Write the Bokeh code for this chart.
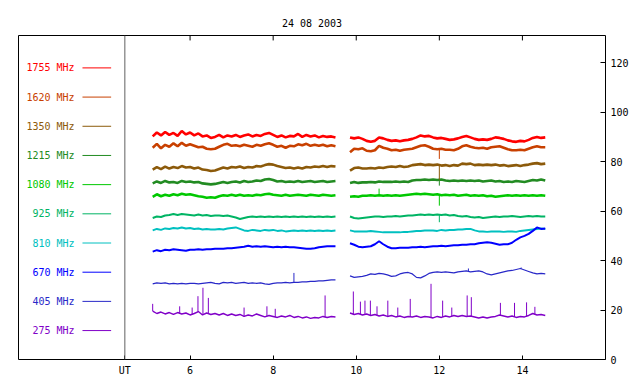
import numpy as np
from bokeh.plotting import figure
from bokeh.models import LinearAxis, FixedTicker, Span, Range1d
from bokeh.core.properties import value
from bokeh.embed import file_html
from bokeh.resources import INLINE

# ---------------- data ----------------
title_text = "24 08 2003"
freq_labels = ["1755 MHz", "1620 MHz", "1350 MHz", "1215 MHz", "1080 MHz",
               "925 MHz", "810 MHz", "670 MHz", "405 MHz", "275 MHz"]
colors = ["#ff0000", "#c84000", "#8c5a0a", "#228b22", "#00c800",
          "#00b464", "#00c0c0", "#0000ff", "#2828c8", "#8000c8"]

x_ticks = [6, 8, 10, 12, 14]
y_ticks = [0, 20, 40, 60, 80, 100, 120]

hours_seg1 = np.round(np.arange(5.1, 9.5001, 0.1), 2)    # 45 samples
hours_seg2 = np.round(np.arange(9.85, 14.5501, 0.1), 2)  # 48 samples

s1755_a = [90.2, 91.8, 90.6, 92.0, 90.8, 91.6, 90.4, 92.4, 91.0, 91.8,
           90.6, 91.4, 90.2, 90.6, 89.6, 90.0,
           90.8, 89.8, 90.6, 90.2,
           90.8, 90.0, 90.6, 91.0, 90.2, 90.8, 90.4, 91.2, 91.6, 90.8,
           90.0, 90.6, 89.8, 90.4, 90.2,
           91.2, 90.0, 90.8, 90.2, 90.6,
           89.8, 90.4, 90.0, 90.2, 89.8]
s1755_b = [89.8, 89.4, 89.8, 89.2,
           88.4, 88.0, 88.4,
           89.8, 89.4, 88.8,
           88.4, 88.6, 88.2, 88.6, 88.8,
           89.2, 89.8,
           90.6, 90.2, 90.4,
           89.8, 89.4, 89.6, 89.2,
           88.8, 89.0, 89.4,
           90.0, 90.4, 89.8,
           89.2, 88.8, 89.0, 88.8, 89.2,
           89.8, 89.6, 89.2,
           88.6, 88.2, 88.0, 88.4, 88.2, 88.8,
           89.6, 90.0, 89.6, 89.8]

s1620_a = [85.6, 87.2, 85.4, 86.8, 86.0, 87.4, 86.2, 87.6, 86.4, 87.0,
           86.4, 85.8, 86.0, 85.2, 85.0, 85.2,
           86.0, 86.8, 87.2, 86.4,
           86.6, 86.2, 86.8, 86.4, 86.0, 86.8, 86.4, 87.0, 87.4, 86.8,
           86.0, 86.4, 85.6, 86.4, 86.2,
           87.0, 86.6, 87.2, 86.4, 86.8,
           86.4, 86.8, 86.2, 86.6, 86.2]
s1620_b = [83.8, 85.2, 85.0, 85.4,
           84.4, 84.2, 84.6,
           86.4, 85.6, 85.2,
           84.6, 84.8, 84.4, 84.8, 85.0,
           85.2, 85.8,
           86.4, 86.6, 86.0,
           85.2, 85.0, 85.2, 84.8,
           84.8, 84.6, 85.2,
           86.2, 86.6, 86.0,
           85.6, 85.4, 85.6, 85.2, 85.8,
           86.0, 86.2, 85.6,
           85.0, 84.6, 84.6, 84.8, 84.6, 85.2,
           85.8, 86.2, 85.8, 85.8]

s1350_a = [76.8, 77.8, 77.0, 78.0, 77.2, 77.8, 77.4, 78.2, 77.6, 77.8,
           77.2, 77.6, 76.8, 76.6, 76.2, 76.4,
           77.0, 77.6, 77.2, 77.8,
           77.6, 78.0, 77.4, 77.8, 77.6, 78.2, 78.0, 78.6, 79.0, 78.8,
           78.2, 77.8, 77.4, 77.6, 77.2,
           77.6, 77.2, 77.8, 77.6, 78.0,
           77.8, 78.2, 77.8, 78.2, 78.0]
s1350_b = [76.4, 77.4, 77.6, 77.2,
           77.2, 77.4, 77.2,
           77.6, 77.4, 77.8,
           78.0, 77.8, 78.2, 77.8, 78.0,
           78.6, 78.8,
           79.0, 78.6, 78.8,
           78.6, 78.8, 78.4, 78.6,
           78.2, 78.6, 78.4,
           79.2, 79.0, 79.2,
           78.6, 78.8, 78.6, 78.8, 78.6,
           78.8, 78.4, 78.6,
           78.2, 78.4, 78.6, 78.2, 78.6, 78.8,
           79.2, 79.4, 79.0, 79.2]

s1215_a = [71.2, 72.0, 71.4, 72.2, 71.6, 71.8, 71.4, 72.2, 71.8, 72.0,
           71.6, 71.8, 71.2, 71.0, 70.8, 71.0,
           71.4, 71.8, 71.4, 71.8,
           72.0, 71.6, 72.2, 71.8, 72.0, 72.4, 72.2, 72.8, 73.0, 72.6,
           72.0, 72.2, 71.8, 72.0, 71.8,
           72.2, 71.8, 72.0, 72.2, 71.8,
           72.0, 72.2, 71.8, 72.0, 72.2]
s1215_b = [71.4, 71.8, 71.4, 71.6,
           71.6, 71.8, 71.6,
           72.0, 71.8, 71.8,
           71.8, 72.0, 71.8, 72.0, 71.8,
           72.4, 72.6,
           72.6, 72.8, 72.6,
           72.8, 72.6, 72.8, 72.4,
           72.2, 72.4, 72.2,
           72.4, 72.2, 72.4,
           72.2, 72.4, 72.0, 72.2, 72.4,
           72.0, 72.2, 71.8,
           72.0, 71.8, 72.2, 72.0, 71.8, 72.2,
           72.6, 72.4, 72.8, 72.4]

s1080_a = [65.8, 66.8, 66.0, 66.6, 66.2, 66.8, 66.4, 67.0, 66.6, 66.8,
           66.4, 66.0, 65.8, 65.4, 65.6, 65.4,
           66.0, 66.4, 66.2, 66.6,
           66.2, 66.6, 66.2, 66.4, 66.2, 66.6, 66.4, 66.8, 67.0, 66.6,
           66.4, 66.2, 66.6, 66.2, 66.4,
           66.6, 66.4, 66.2, 66.6, 66.4,
           66.2, 66.6, 66.4, 66.2, 66.4]
s1080_b = [65.8, 66.0, 65.8, 66.2,
           66.2, 66.4, 66.2,
           66.4, 66.2, 66.4,
           66.2, 66.4, 66.2, 66.4, 66.6,
           66.8, 67.0,
           66.8, 67.0, 66.8,
           66.6, 66.8, 66.4, 66.6,
           66.4, 66.6, 66.2,
           66.4, 66.6, 66.2,
           66.4, 66.2, 66.4, 66.0, 66.2,
           65.8, 66.0, 66.2,
           66.4, 66.2, 66.4, 66.2, 66.4, 66.2,
           66.4, 66.2, 66.4, 66.2]

s925_a = [57.2, 57.8, 57.6, 58.2, 58.4, 58.8, 58.4, 58.8, 58.6, 58.4,
          58.2, 58.6, 58.2, 58.4, 58.0, 58.2,
          58.2, 58.0, 58.2, 57.8,
          57.4, 56.8, 57.2, 57.6, 57.8, 57.6, 57.8, 57.6, 57.8, 57.6,
          57.8, 57.6, 57.8, 57.6, 57.8,
          57.6, 57.8, 57.6, 57.8, 57.6,
          57.8, 57.6, 57.8, 57.6, 57.8]
s925_b = [57.8, 57.2, 57.0, 57.2,
          57.4, 57.6, 57.8,
          57.8, 57.6, 57.8,
          57.8, 58.0, 57.8, 58.0, 58.2,
          58.2, 58.4,
          58.6, 58.4, 58.6,
          58.4, 58.6, 58.4, 58.6,
          58.2, 58.4, 58.0,
          57.8, 58.0, 57.6,
          57.4, 57.6, 57.2, 57.4, 57.6,
          57.8, 57.6, 57.8,
          57.8, 58.0, 57.8, 57.6, 57.8, 58.0,
          57.8, 58.0, 57.8, 57.8]

s810_a = [52.2, 52.8, 52.4, 53.0, 52.8, 53.2, 53.0, 53.4, 53.0, 53.2,
          52.8, 53.0, 52.6, 52.8, 52.6, 52.6,
          52.8, 52.6, 53.0, 53.2,
          53.4, 52.8, 52.2, 52.0, 52.4, 52.2, 52.0, 52.4, 52.2, 52.4,
          52.0, 52.2, 51.8, 52.0, 52.2,
          52.0, 52.2, 52.0, 52.2, 52.0,
          52.2, 52.0, 52.2, 52.0, 52.2]
s810_b = [52.2, 51.8, 51.8, 51.8,
          51.8, 52.0, 51.8,
          51.6, 51.4, 51.4,
          51.4, 51.4, 51.4, 51.6, 51.6,
          51.8, 52.0,
          52.0, 52.2, 52.2,
          52.2, 52.0, 52.4, 52.2,
          52.4, 52.4, 52.6,
          52.6, 52.8, 52.8,
          52.2, 51.8, 51.8, 51.6, 51.8,
          51.8, 51.8, 51.6,
          51.8, 51.8, 51.6, 52.0, 52.2, 52.4,
          52.6, 52.8, 53.0, 52.8]

s670_a = [43.6, 44.2, 43.8, 44.4, 44.2, 44.6, 44.4, 44.2, 44.0, 44.4,
          44.4, 44.6, 44.4, 44.6, 44.6, 44.8,
          44.8, 44.8, 45.0, 45.0,
          45.2, 45.4, 45.6, 46.0, 45.6, 45.8, 45.6, 45.8, 45.6, 45.4,
          45.6, 45.4, 45.6, 45.4, 45.4,
          45.2, 45.0, 44.8, 44.8, 45.0,
          45.4, 45.6, 45.8, 45.8, 45.8]
s670_b = [47.0, 46.4, 45.6, 45.4,
          45.6, 45.8, 46.6,
          47.8, 46.6, 45.6,
          45.0, 45.0, 45.2, 45.2, 45.2,
          45.4, 45.4,
          45.6, 45.4, 45.6,
          45.8, 45.8, 46.0, 45.8,
          46.0, 46.2, 46.2,
          46.4, 46.4, 46.6,
          46.6, 47.0, 47.2, 47.4, 47.2,
          46.8, 46.4, 46.6,
          46.6, 47.2, 48.4, 49.4, 50.0, 50.8,
          52.0, 53.4, 52.8, 53.0]

s405_a = [30.6, 31.0, 30.8, 31.0, 30.6, 30.8, 30.6, 30.8, 30.6, 30.8,
          30.8, 30.6, 30.8, 31.0, 31.2, 30.8,
          30.6, 31.2, 31.0, 31.2,
          30.8, 31.0, 31.2, 30.8, 31.0, 30.8, 31.0, 30.6, 30.4, 30.8,
          31.0, 31.0, 31.2, 31.0, 31.2,
          31.2, 31.4, 31.4, 31.6, 31.6,
          31.8, 31.8, 32.0, 32.2, 32.2]
s405_b = [33.8, 33.2, 33.4, 33.6,
          34.0, 34.6, 34.4,
          34.8, 34.6, 34.2,
          33.6, 33.8, 34.6, 35.0, 35.2,
          34.6, 33.2,
          33.0, 33.8, 34.8,
          35.2, 35.4, 35.2, 35.4,
          35.2, 35.0, 35.4,
          35.6, 35.8, 35.4,
          35.6, 35.8, 35.4, 34.6, 34.2,
          34.6, 35.0, 35.4,
          35.8, 36.0, 36.4, 36.8, 36.2, 35.6,
          35.0, 34.6, 34.8, 34.6]

s275_a = [19.6, 18.6, 19.2, 18.4, 19.0, 18.2, 19.0, 18.4, 18.8, 18.0,
          18.6, 19.4, 18.0, 18.8, 18.2, 18.6,
          18.0, 18.6, 17.8, 18.4,
          17.8, 18.2, 17.4, 18.0, 17.6, 18.4, 17.8, 17.2, 17.8, 17.4,
          17.0, 17.6, 17.2, 17.8, 17.0,
          17.4, 16.8, 17.2, 16.6, 17.0,
          16.8, 17.4, 17.0, 17.4, 17.2]
s275_b = [18.8, 18.2, 18.6, 18.0,
          18.4, 17.8, 18.2,
          17.6, 18.0, 17.4,
          17.8, 17.2, 17.6, 17.0, 17.4,
          17.2, 17.6,
          17.0, 17.4, 17.2,
          16.8, 17.4, 17.0, 17.6,
          17.2, 17.8, 17.4,
          17.8, 17.4, 17.6,
          17.2, 16.8, 17.2, 16.8, 17.2,
          17.4, 18.0, 17.6,
          17.2, 17.6, 17.0, 17.4, 17.2, 17.8,
          18.6, 18.0, 18.2, 17.8]

series_a = [s1755_a, s1620_a, s1350_a, s1215_a, s1080_a,
            s925_a, s810_a, s670_a, s405_a, s275_a]
series_b = [s1755_b, s1620_b, s1350_b, s1215_b, s1080_b,
            s925_b, s810_b, s670_b, s405_b, s275_b]

# isolated spikes: (channel index, hour, peak value)
spike_channel = [1, 2, 3, 4, 5, 4, 8, 8, 8]
spike_hours = [12.0, 12.0, 12.0, 12.0, 12.0, 10.55, 8.5, 12.7, 13.97]
spike_values = [81.1, 72.3, 70.3, 62.2, 55.5, 69.1, 35.0, 36.8, 37.2]

burst_hours = [5.10, 5.75, 6.05, 6.19, 6.31, 6.44, 7.30, 7.85, 8.05, 9.25,
               9.93, 10.10, 10.21, 10.34, 10.50, 10.76, 11.00, 11.30, 11.80,
               12.08, 12.30, 12.67, 12.77, 13.47, 13.81, 14.10, 14.30]
burst_values = [22.5, 21.5, 21.0, 25.6, 29.0, 24.9, 21.0, 21.5, 20.5, 25.9,
                27.5, 23.4, 23.8, 23.8, 21.5, 23.8, 21.0, 24.5, 30.6,
                23.8, 21.0, 25.9, 25.2, 22.9, 22.9, 23.1, 21.3]

# ---------------- layout constants ----------------
FONT = "DejaVu Sans Mono"
UT_SEP = 4.43
LEG_TEXT_X = 3.22
LEG_LINE_X0 = 3.41
LEG_LINE_X1 = 4.10
LEG_Y0 = 11.7
LEG_DY = 11.8
X_MIN, X_MAX = 1.87, 16.0
Y_MIN, Y_MAX = 0, 131
TOP_TICK = 2.0  # length of top ticks in data units

line_widths = [2.6, 2.6, 2.6, 2.6, 2.6, 2.0, 2.0, 2.0, 1.2, 1.4]

p = figure(frame_width=587, frame_height=324,
           x_range=Range1d(X_MIN, X_MAX), y_range=Range1d(Y_MIN, Y_MAX),
           x_axis_location=None, y_axis_location=None,
           toolbar_location=None, output_backend="svg",
           min_border_left=18, min_border_right=27,
           min_border_top=35, min_border_bottom=17)
p.grid.visible = False
p.outline_line_color = "black"
p.outline_line_width = 1
p.background_fill_color = "white"
p.border_fill_color = "white"

p.title.text = title_text
p.title.align = "center"
p.title.vertical_align = "top"
p.title.text_font = FONT
p.title.text_font_size = "10px"
p.title.text_font_style = "normal"
p.title.text_color = "black"

def style_axis(ax):
    ax.axis_line_color = None
    ax.minor_tick_line_color = None
    ax.major_tick_line_color = "black"
    ax.major_label_text_font = FONT
    ax.major_label_text_font_size = "10px"
    ax.major_label_text_color = "black"

xb = LinearAxis(ticker=FixedTicker(ticks=[UT_SEP] + x_ticks),
                major_label_overrides={UT_SEP: "UT"})
style_axis(xb)
xb.major_tick_in = 4
xb.major_tick_out = 0
xb.major_label_standoff = 5
p.add_layout(xb, "below")

yr = LinearAxis(ticker=FixedTicker(ticks=y_ticks))
style_axis(yr)
yr.major_tick_in = 5
yr.major_tick_out = 0
yr.major_label_standoff = 5
p.add_layout(yr, "right")

# top ticks (pointing inward from the top frame edge)
p.segment(x0=x_ticks, x1=x_ticks, y0=[Y_MAX] * len(x_ticks),
          y1=[Y_MAX - TOP_TICK] * len(x_ticks), line_color="black", line_width=1)

p.add_layout(Span(location=UT_SEP, dimension="height",
                  line_color="#606060", line_width=1))

# legend
n = len(freq_labels)
leg_y = [LEG_Y0 + LEG_DY * (n - 1 - k) for k in range(n)]
p.text(x=[LEG_TEXT_X] * n, y=leg_y, text=freq_labels, text_color=colors,
       text_align="right", text_baseline="middle",
       text_font=value(FONT), text_font_size="10px")
p.segment(x0=[LEG_LINE_X0] * n, x1=[LEG_LINE_X1] * n, y0=leg_y, y1=leg_y,
          line_color=colors, line_width=1)

# series
for k in range(n):
    a, b = series_a[k], series_b[k]
    assert len(a) == len(hours_seg1), (k, len(a))
    assert len(b) == len(hours_seg2), (k, len(b))
    p.line(hours_seg1, a, line_color=colors[k], line_width=line_widths[k])
    p.line(hours_seg2, b, line_color=colors[k], line_width=line_widths[k])

def baseline(k, t):
    hh = np.concatenate([hours_seg1, hours_seg2])
    vv = np.concatenate([series_a[k], series_b[k]])
    return float(np.interp(t, hh, vv))

p.segment(x0=spike_hours, x1=spike_hours,
          y0=[baseline(c, t) for c, t in zip(spike_channel, spike_hours)],
          y1=spike_values, line_color=[colors[c] for c in spike_channel],
          line_width=1)
p.segment(x0=burst_hours, x1=burst_hours,
          y0=[baseline(9, t) for t in burst_hours],
          y1=burst_values, line_color=colors[9], line_width=1)

open("out.html", "w").write(file_html(p, INLINE))
